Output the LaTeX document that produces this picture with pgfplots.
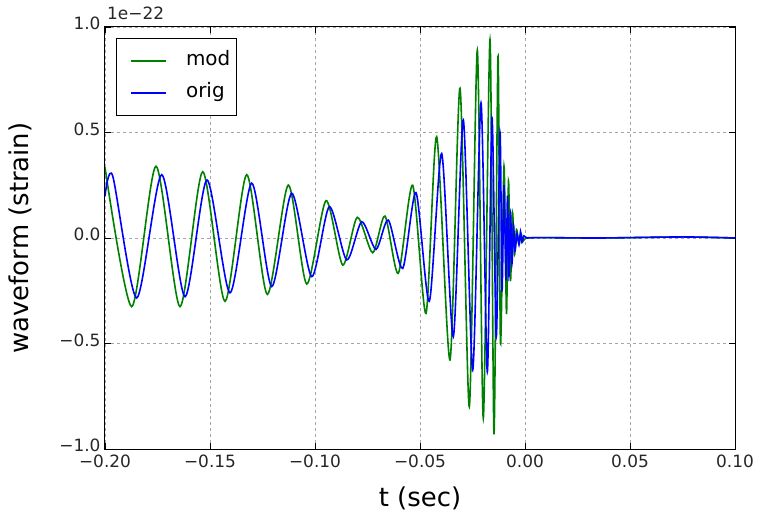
\documentclass[border=0pt]{standalone}
\usepackage{pgfplots}
\pgfplotsset{compat=1.18}
\usepackage{fontspec}
\setmainfont{DejaVu Sans}
\definecolor{mgreen}{rgb}{0,0.5,0}
\definecolor{mblue}{rgb}{0,0,1}
\begin{document}
\begin{tikzpicture}
\begin{axis}[
  scale only axis,
  width=630bp, height=422bp,
  xmin=-0.2, xmax=0.1, ymin=-1, ymax=1,
  xtick={-0.2,-0.15,-0.1,-0.05,0,0.05,0.1},
  xticklabels={−0.20,−0.15,−0.10,−0.05,0.00,0.05,0.10},
  ytick={-1,-0.5,0,0.5,1},
  yticklabels={−1.0,−0.5,0.0,0.5,1.0},
  tick align=inside,
  major tick length=6bp,
  tick style={black, line width=0.8bp},
  axis line style={black, line width=1bp},
  grid=major,
  grid style={black!35, dash pattern=on 3bp off 3bp, line width=0.8bp},
  tick label style={font=\fontsize{17}{20}\selectfont, text=black!85},
  xticklabel style={yshift=-2.5bp},
  yticklabel style={xshift=-1bp, yshift=3.5bp},
  every axis x label/.style={at={(rel axis cs:0.5,0)}, yshift=-49bp, anchor=center},
  every axis y label/.style={at={(rel axis cs:0,0.5)}, xshift=-85bp, anchor=center, rotate=90},
  label style={font=\fontsize{26}{30}\selectfont},
  xlabel={t (sec)},
  ylabel={waveform (strain)},
  legend style={at={(rel axis cs:0,1)}, anchor=north west, xshift=11bp, yshift=-11bp,
    draw=black, line width=1bp, font=\fontsize{20}{24}\selectfont,
    inner xsep=4.5bp, inner ysep=11bp, row sep=9bp, column sep=17bp,
    nodes={text height=14bp, text depth=5bp}},
  legend cell align=left,
  legend image code/.code={\path (-9.5bp,0bp); \draw[#1, line width=1.6bp] (0bp,0bp) -- (35bp,0bp);},
  clip=true,
]
\addplot[mgreen, line width=1.6bp, smooth, tension=0.45] coordinates {
(-0.2000,0.335) (-0.18729,-0.325) (-0.17571,0.340) (-0.16429,-0.325)
(-0.15348,0.314) (-0.14286,-0.300) (-0.13252,0.300) (-0.12271,-0.267) (-0.11271,0.251)
(-0.10395,-0.218) (-0.09476,0.177) (-0.08681,-0.128) (-0.07986,0.098) (-0.07252,-0.070)
(-0.06667,0.104) (-0.06033,-0.167) (-0.05348,0.250) (-0.04714,-0.357) (-0.04205,0.480)
(-0.03571,-0.578) (-0.03095,0.710) (-0.02652,-0.800) (-0.02271,0.890) (-0.01986,-0.855)
(-0.01667,0.940) (-0.01476,-0.930) (-0.01286,0.860) (-0.01167,-0.500) (-0.01000,0.340)
(-0.00881,-0.360) (-0.00786,0.270) (-0.00690,-0.200) (-0.00595,0.120) (-0.00500,-0.080)
(-0.00405,0.040) (-0.00286,-0.030) (-0.00190,0.020) (-0.00095,-0.015) (0.00048,0.000)
(0.00700,0.002) (0.03500,0.000) (0.07500,0.005) (0.10000,0.000)
};
\addlegendentry{mod}
\addplot[mblue, line width=1.6bp, smooth, tension=0.45] coordinates {
(-0.2000,0.200) (-0.19633,0.294) (-0.18490,-0.284) (-0.17300,0.300) (-0.16190,-0.278)
(-0.15143,0.275) (-0.14048,-0.260) (-0.13014,0.260) (-0.12062,-0.230) (-0.11110,0.212)
(-0.10157,-0.183) (-0.09319,0.148) (-0.08490,-0.104) (-0.07776,0.077) (-0.07095,-0.054)
(-0.06510,0.085) (-0.05824,-0.144) (-0.05190,0.215) (-0.04557,-0.300) (-0.03967,0.400)
(-0.03414,-0.468) (-0.02938,0.560) (-0.02490,-0.626) (-0.02095,0.640) (-0.01795,-0.634)
(-0.01571,0.570) (-0.01367,-0.468) (-0.01190,0.500) (-0.01095,-0.250) (-0.01000,0.250)
(-0.00905,-0.200) (-0.00833,0.200) (-0.00762,-0.180) (-0.00690,0.120) (-0.00619,-0.120)
(-0.00548,0.060) (-0.00476,-0.060) (-0.00381,0.020) (-0.00286,-0.030) (-0.00214,0.030)
(-0.00143,-0.020) (-0.00048,0.010) (0.00095,0.000) (0.00714,0.002) (0.03570,0.000)
(0.07520,0.005) (0.10000,0.000)
};
\addlegendentry{orig}
\end{axis}
\node[anchor=base west, font=\fontsize{17}{20}\selectfont, text=black!85, inner sep=0pt] at ([shift={(2bp,7bp)}]current axis.north west) {1e−22};
\pgfresetboundingbox
\path ([shift={(-105bp,-63bp)}]current axis.south west) rectangle ([shift={(22bp,27bp)}]current axis.north east);
\end{tikzpicture}
\end{document}
